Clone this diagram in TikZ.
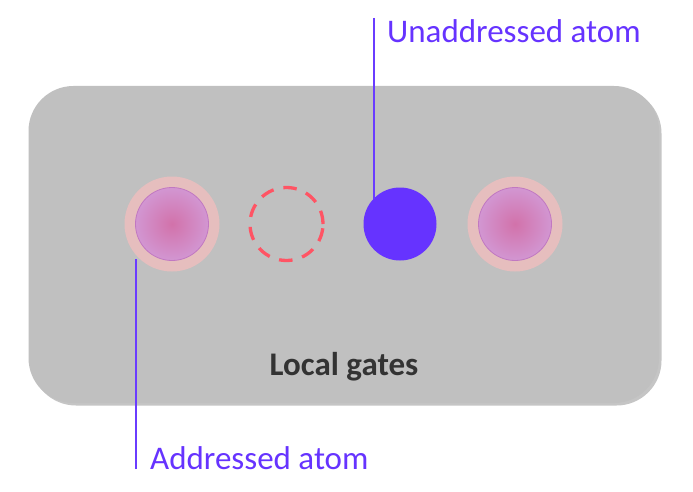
\documentclass[tikz,border=0pt]{standalone}
\usepackage{fontspec}
\setmainfont{Carlito}
\usetikzlibrary{shadows,shadings}
\definecolor{boxgray}{HTML}{C0C0C0}
\definecolor{atomblue}{HTML}{6633FF}
\definecolor{linkblue}{HTML}{6A3CFF}
\definecolor{dashred}{HTML}{FF5464}
\definecolor{halo}{HTML}{E6BEBE}
\definecolor{coreedge}{HTML}{D296D2}
\definecolor{corecenter}{HTML}{D272AA}
\definecolor{darktext}{HTML}{333333}
\tikzset{
  gatebox/.style={fill=boxgray, draw=none, rounded corners=45pt,
    drop shadow={shadow xshift=2.5pt, shadow yshift=-2.5pt, opacity=0.35, fill=gray!70!black}},
  halocircle/.style={circle, fill=halo, draw=none, minimum size=95pt, inner sep=0pt},
  corecircle/.style={circle, inner color=corecenter, outer color=coreedge, draw=coreedge!80!violet, line width=0.8pt, minimum size=73pt, inner sep=0pt},
  emptysite/.style={circle, draw=dashred, line width=3.3pt, dash pattern=on 13.5pt off 10pt, minimum size=73pt, inner sep=0pt},
  bluesite/.style={circle, fill=atomblue, draw=none, minimum size=73pt, inner sep=0pt},
  leader/.style={draw=linkblue, line width=1.2pt},
  labeltext/.style={text=atomblue, font=\fontsize{33}{33}\selectfont, inner sep=0pt, anchor=base west},
}
\begin{document}
\begin{tikzpicture}[x=1pt,y=-1pt]
\useasboundingbox (0,0) rectangle (693,492);
\fill[white] (0,0) rectangle (693,492);
\path[gatebox] (28.5,86) rectangle (659,403);
\node[halocircle] (h1) at (172,224) {};
\node[corecircle] (a1) at (172,224) {};
\node[emptysite] (e1) at (286.5,224) {};
\node[bluesite] (b1) at (400,224) {};
\node[halocircle] (h2) at (515,224) {};
\node[corecircle] (a2) at (515,224) {};
\node[text=darktext, font=\bfseries\fontsize{33}{33}\selectfont, inner sep=0pt, anchor=base] (lg) at (344,375) {Local gates};
\node[labeltext] (ul) at (387,43) {Unaddressed atom};
\node[labeltext] (al) at (150,469) {Addressed atom};
\coordinate (ut) at (374,18);
\coordinate (ab) at (136,469);
\draw[leader] (ut) -- (ut |- b1.north) -- ++(0,12);
\draw[leader] (ab) -- (ab |- a1.south) -- ++(0,-2);
\end{tikzpicture}
\end{document}
